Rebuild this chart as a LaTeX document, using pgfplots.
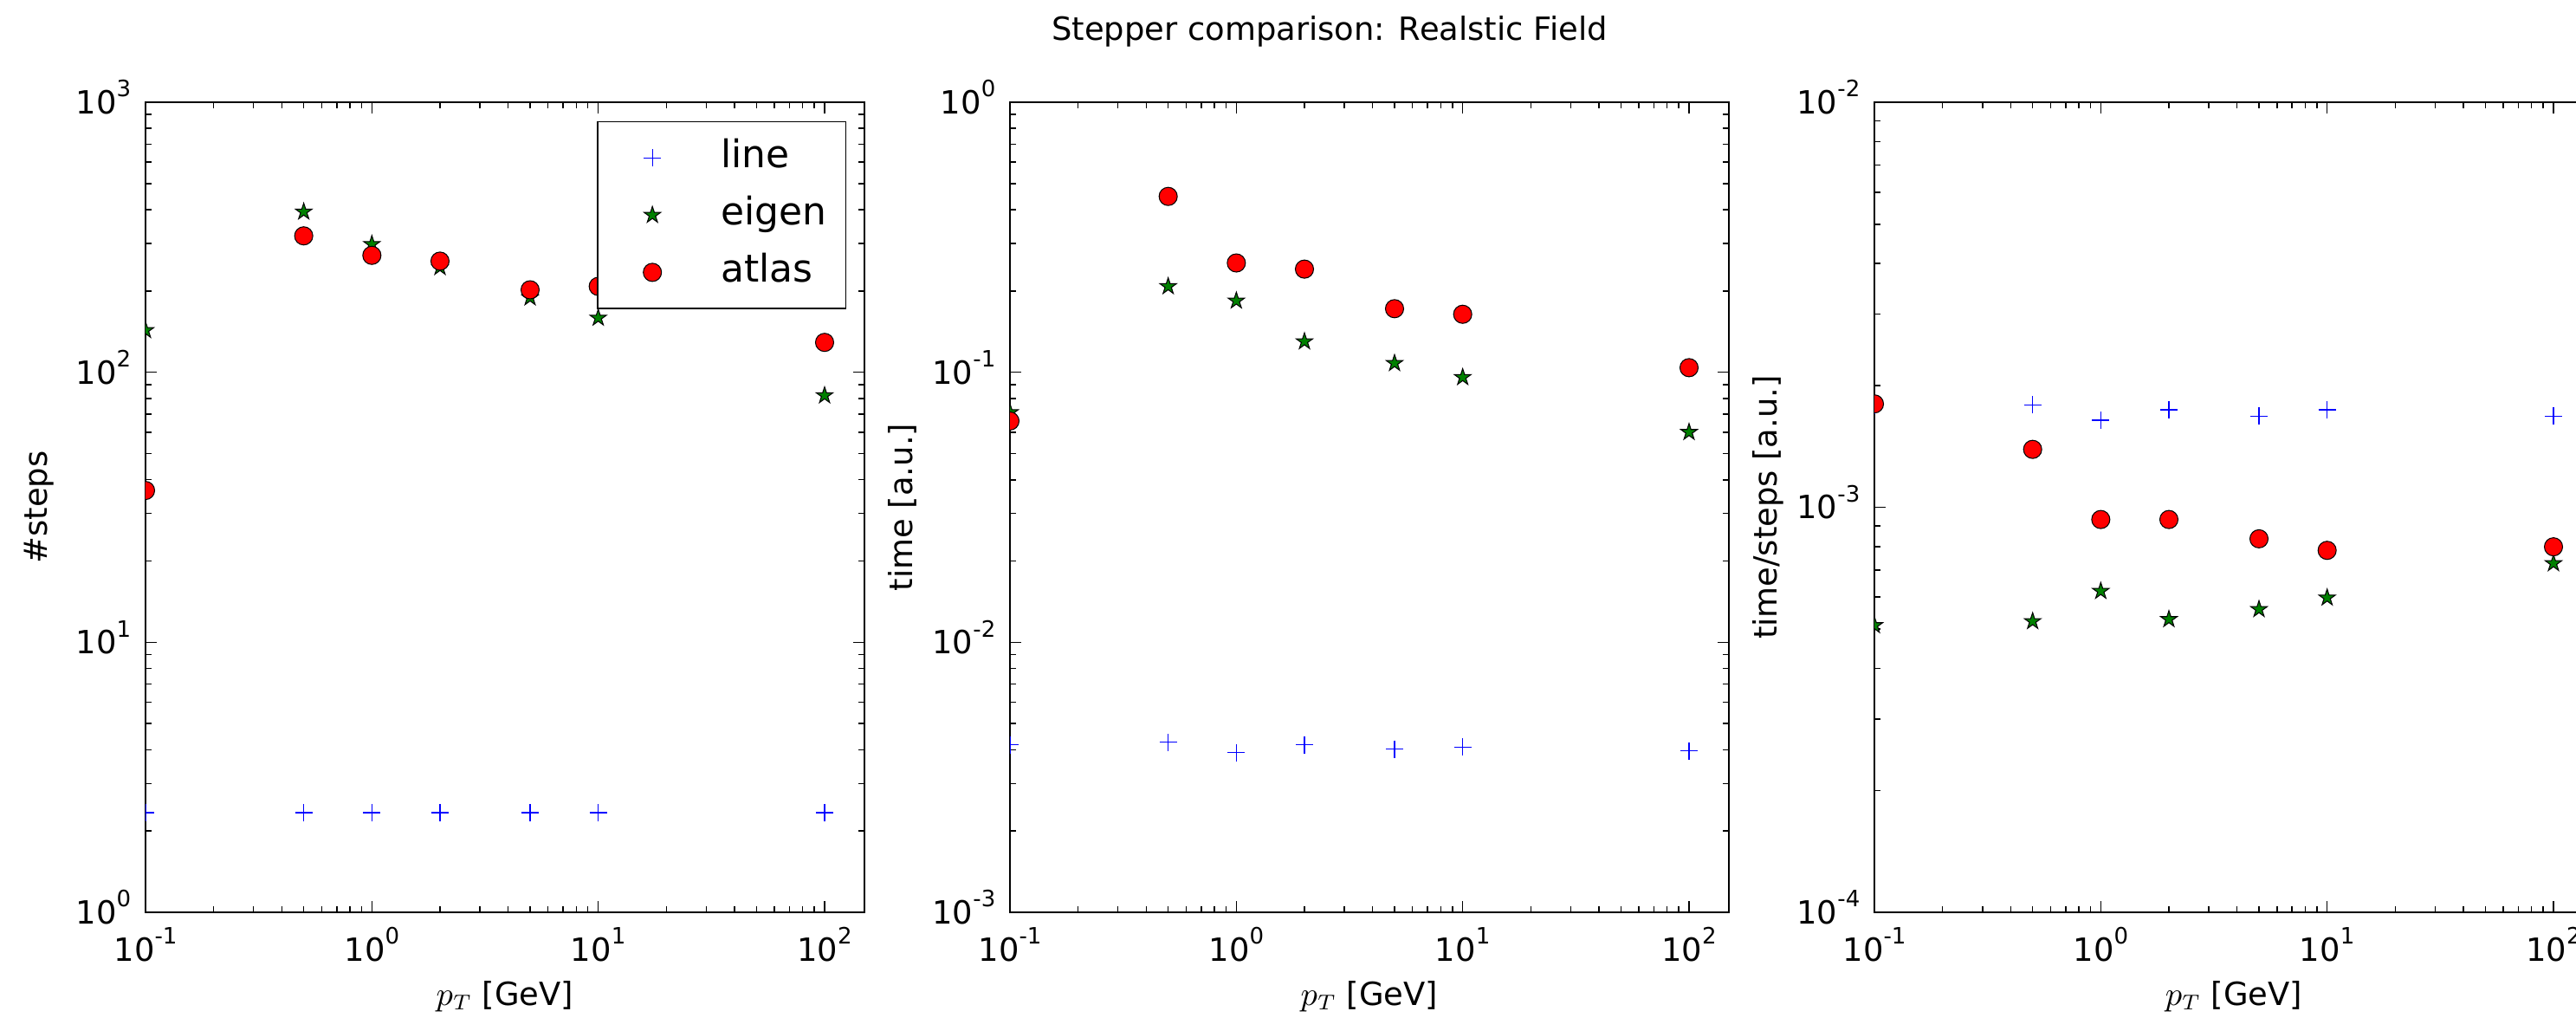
\documentclass[border=0pt]{standalone}
\usepackage{fontspec}
\setmainfont{DejaVu Sans}
\usepackage{pgfplots}
\pgfplotsset{compat=1.18}
\definecolor{mplblue}{RGB}{0,0,255}
\definecolor{mplgreen}{RGB}{0,128,0}
\definecolor{mplred}{RGB}{255,0,0}

% 10^n tick label in the text font
\newcommand\pw[1]{10\raisebox{5.6pt}{\fontsize{7.4}{8}\selectfont #1}}
\newcommand\lblfont{\fontsize{10.5}{12}\selectfont}

% filled five-point star, like matplotlib's '*'
\pgfdeclareplotmark{fstar}{%
  \pgfpathmoveto{\pgfpointpolar{90}{\pgfplotmarksize}}%
  \pgfpathlineto{\pgfpointpolar{126}{0.382\pgfplotmarksize}}%
  \pgfpathlineto{\pgfpointpolar{162}{\pgfplotmarksize}}%
  \pgfpathlineto{\pgfpointpolar{198}{0.382\pgfplotmarksize}}%
  \pgfpathlineto{\pgfpointpolar{234}{\pgfplotmarksize}}%
  \pgfpathlineto{\pgfpointpolar{270}{0.382\pgfplotmarksize}}%
  \pgfpathlineto{\pgfpointpolar{306}{\pgfplotmarksize}}%
  \pgfpathlineto{\pgfpointpolar{342}{0.382\pgfplotmarksize}}%
  \pgfpathlineto{\pgfpointpolar{18}{\pgfplotmarksize}}%
  \pgfpathlineto{\pgfpointpolar{54}{0.382\pgfplotmarksize}}%
  \pgfpathclose
  \pgfusepathqfillstroke
}

\pgfplotsset{
  every axis/.append style={
    scale only axis, width=8.30cm, height=9.35cm,
    xmin=0.1, xmax=150,
    axis line style={line width=0.8pt},
    tick align=inside, major tick length=0.13cm, minor tick length=0.07cm,
    every tick/.style={black, line width=0.45pt},
    xtick={0.1,1,10,100}, xticklabels={\pw{-1},\pw{0},\pw{1},\pw{2}},
    minor xtick={0.2,0.3,0.4,0.5,0.6,0.7,0.8,0.9,2,3,4,5,6,7,8,9,20,30,40,50,60,70,80,90},
    tick label style={font=\lblfont},
    x tick label style={anchor=north, text height=7.6pt, text depth=0pt, inner sep=0pt, yshift=-0.29cm},
    y tick label style={anchor=east, text height=7.6pt, text depth=0pt, inner sep=0pt, xshift=-0.16cm},
    clip marker paths=true,
    xlabel={$p_T$ [GeV]},
    every axis x label/.style={at={(rel axis cs:0.5,0)}, anchor=base, yshift=-1.07cm, font=\lblfont},
    every axis y label/.style={at={(rel axis cs:0,0.5)}, anchor=base, rotate=90, yshift=1.13cm, font=\lblfont},
  },
  % one mark, with the room before the text that matplotlib leaves
  mlegend/.style={legend image code/.code={\path[draw=none,fill=none] (0cm,0cm) -- (1.2cm,0cm); \draw[##1] plot coordinates {(0.55cm,0cm)};}},
  lineS/.style={only marks, mark=+, mark size=0.1cm, color=mplblue, mark options={line width=0.35pt}, mlegend},
  eigenS/.style={only marks, mark=fstar, mark size=0.1cm, mark options={fill=mplgreen, draw=black, line width=0.3pt}, mlegend},
  atlasS/.style={only marks, mark=*, mark size=0.105cm, mark options={fill=mplred, draw=black, line width=0.3pt}, mlegend},
}

\begin{document}
\begin{tikzpicture}

\node[anchor=base, font=\lblfont] at (15.35,11.27) {Stepper comparison: Realstic Field};

% steps
\begin{loglogaxis}[at={(1.68cm,1.21cm)}, anchor=south west,
    ymin=1, ymax=1000, ylabel={\#steps},
    ytick={1,10,100,1000}, yticklabels={\pw{0},\pw{1},\pw{2},\pw{3}},
    minor ytick={2,3,4,5,6,7,8,9,20,30,40,50,60,70,80,90,200,300,400,500,600,700,800,900},
    legend cell align=left,
    legend style={at={(rel axis cs:0.9747,0.9765)}, anchor=north east, draw=black,
      inner xsep=0.08cm, inner ysep=0.085cm, row sep=0pt,
      font=\fontsize{12.5}{15}\selectfont,
      nodes={text height=9.5pt, text depth=3.3pt, inner ysep=3pt, inner xsep=4pt}}]
\addplot[lineS] coordinates {(0.1,2.34)(0.5,2.34)(1,2.34)(2,2.34)(5,2.34)(10,2.34)(100,2.34)};
\addlegendentry{line}
\addplot[eigenS] coordinates {(0.1,143)(0.5,393)(1,298)(2,245)(5,189)(10,159)(100,82)};
\addlegendentry{eigen}
\addplot[atlasS] coordinates {(0.1,36.5)(0.5,320)(1,271)(2,258)(5,202)(10,208)(100,129)};
\addlegendentry{atlas}
\end{loglogaxis}

% time
\begin{loglogaxis}[at={(11.66cm,1.21cm)}, anchor=south west,
    ymin=0.001, ymax=1, ylabel={time [a.u.]},
    ytick={0.001,0.01,0.1,1}, yticklabels={\pw{-3},\pw{-2},\pw{-1},\pw{0}},
    minor ytick={0.002,0.003,0.004,0.005,0.006,0.007,0.008,0.009,0.02,0.03,0.04,0.05,0.06,0.07,0.08,0.09,0.2,0.3,0.4,0.5,0.6,0.7,0.8,0.9}]
\addplot[lineS] coordinates {(0.1,0.00417)(0.5,0.00426)(1,0.00390)(2,0.00417)(5,0.00402)(10,0.00409)(100,0.00396)};
\addplot[eigenS] coordinates {(0.1,0.071)(0.5,0.208)(1,0.184)(2,0.130)(5,0.108)(10,0.0958)(100,0.060)};
\addplot[atlasS] coordinates {(0.1,0.066)(0.5,0.448)(1,0.254)(2,0.241)(5,0.172)(10,0.164)(100,0.104)};
\end{loglogaxis}

% time per step
\begin{loglogaxis}[at={(21.64cm,1.21cm)}, anchor=south west,
    ymin=0.0001, ymax=0.01, ylabel={time/steps [a.u.]},
    ytick={0.0001,0.001,0.01}, yticklabels={\pw{-4},\pw{-3},\pw{-2}},
    minor ytick={0.0002,0.0003,0.0004,0.0005,0.0006,0.0007,0.0008,0.0009,0.002,0.003,0.004,0.005,0.006,0.007,0.008,0.009}]
\addplot[lineS] coordinates {(0.1,0.00178)(0.5,0.00179)(1,0.00164)(2,0.00174)(5,0.00168)(10,0.00174)(100,0.00168)};
\addplot[eigenS] coordinates {(0.1,0.000511)(0.5,0.000523)(1,0.000621)(2,0.000529)(5,0.000560)(10,0.000598)(100,0.000727)};
\addplot[atlasS] coordinates {(0.1,0.00180)(0.5,0.00139)(1,0.000933)(2,0.000933)(5,0.000836)(10,0.000783)(100,0.000799)};
\end{loglogaxis}

% the reference is cut off at its right edge, through the third panel
\pgfresetboundingbox
\path[use as bounding box] (0,0) rectangle (29.74,11.74);
\end{tikzpicture}
\end{document}
